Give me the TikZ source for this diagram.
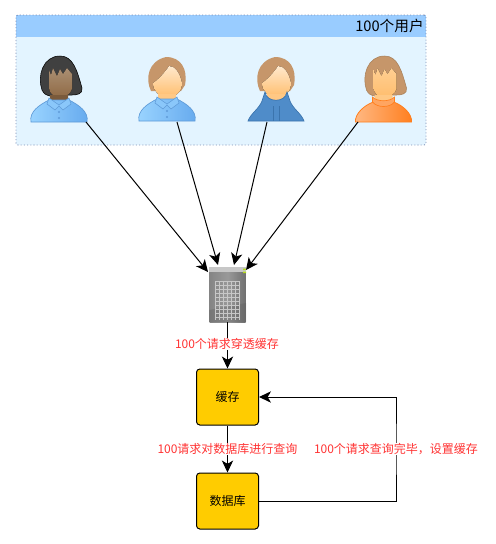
\documentclass[tikz,border=0pt]{standalone}
\usepackage{fontspec}
\setmainfont{Noto Sans CJK SC}
\usetikzlibrary{arrows.meta}
\definecolor{headblue}{HTML}{99CCFF}
\definecolor{paleblue}{HTML}{E3F4FF}
\definecolor{edgeblue}{HTML}{7F8FB5}
\definecolor{boxgold}{HTML}{FFCC00}
\definecolor{labelred}{HTML}{FF3333}
\definecolor{hairtan}{HTML}{C6966A}
\definecolor{skinorange}{HTML}{FFBE6E}
\definecolor{skindark}{HTML}{8F6A45}
\definecolor{shirtblue}{HTML}{66AAEE}
\definecolor{shirtlight}{HTML}{9AD4FF}
\definecolor{shirtedge}{HTML}{5F9BD8}
\definecolor{hoodblue}{HTML}{4F8CC9}
\definecolor{hoodedge}{HTML}{3B74AD}
\definecolor{jerseyorange}{HTML}{FF7F1E}
\tikzset{
  flow/.style={line width=.75pt,-{Stealth[length=9pt,width=8.5pt,inset=2.5pt]}},
  store/.style={draw,line width=.75pt,fill=boxgold,rounded corners=2.5pt,minimum width=46.5pt,minimum height=42pt,inner sep=0pt,font=\fontsize{9}{11}\selectfont},
  note/.style={text=labelred,fill=white,inner sep=.5pt,font=\fontsize{9}{11}\selectfont},
  server/.style={left color=black!48,right color=black!56,middle color=black!40,minimum width=27pt,minimum height=41.25pt,inner sep=0pt}
}
% shirt with collar and two buttons
\newcommand\shirt{
  \draw[shirtedge,line width=.5pt,left color=shirtlight,right color=shirtblue] (-28,0) .. controls (-30,-10) and (-20,-17) .. (-10,-22) -- (10,-22) .. controls (20,-17) and (30,-10) .. (28,0) -- cycle;
  \draw[shirtedge,line width=.4pt,fill=shirtlight!70!shirtblue] (-10,-24) -- (0,-17) -- (10,-24) -- (12,-18) -- (4,-12) -- (0,-16) -- (-4,-12) -- (-12,-18) -- cycle;
  \fill[shirtedge] (0,-10) circle (1.2) (0,-4) circle (1.2);
}
% short hair, swept to one side
\newcommand\shorthair{
  \fill[hairtan] (-16,-30) .. controls (-22,-42) and (-19,-60) .. (-1,-64) .. controls (14,-64) and (21,-52) .. (18,-36) -- (14,-30) -- cycle;
  \fill[top color=skinorange!35!white,bottom color=skinorange] (-14,-38) .. controls (-8,-42) and (-1,-50) .. (2,-55) .. controls (8,-55) and (13,-48) .. (15,-38) .. controls (15,-28) and (8,-24) .. (0,-24) .. controls (-8,-24) and (-14,-30) .. (-14,-38) -- cycle;
}
% long hair with a jagged fringe
\newcommand\longhair[3]{
  \draw[#3,line width=.4pt,fill=#1] (-17,-32) .. controls (-22,-46) and (-16,-66) .. (1,-66) .. controls (14,-66) and (18,-52) .. (23,-34) .. controls (24,-28) and (18,-27) .. (13,-27) -- (-9,-26) .. controls (-13,-27) and (-15,-28) .. (-17,-32) -- cycle;
  \fill[top color=#2!75!white,bottom color=#2] (-10,-52) -- (-8,-47) -- (-6,-54) -- (-2,-46) -- (1,-53) -- (4,-48) -- (8,-54) -- (13,-48) -- (13,-33) .. controls (11,-27) and (6,-25) .. (1,-25) .. controls (-4,-25) and (-10,-28) .. (-10,-34) -- cycle;
}
\newcommand\neck[1]{\fill[#1] (-9,-27) -- (9,-27) -- (9,-19) -- (0,-15) -- (-9,-19) -- cycle;}
\begin{document}
\begin{tikzpicture}[x=.75pt,y=-.75pt]
  \useasboundingbox (0,0) rectangle (496,544);
  \node[fill=paleblue,rounded corners=1.5pt,minimum width=307.5pt,minimum height=97.5pt,inner sep=0pt] (users) at (221,80) {};
  \node[fill=headblue,minimum width=307.5pt,minimum height=16.5pt,inner sep=0pt] (usershead) at (221,26) {};
  \node[draw=edgeblue,line width=.7pt,dash pattern=on .8pt off 1.6pt,rounded corners=1.5pt,minimum width=307.5pt,minimum height=97.5pt,inner sep=0pt] (usersedge) at (221,80) {};
  \node[anchor=east,inner sep=0pt,font=\fontsize{11}{12}\selectfont] (userstitle) at (424,26) {100个用户};

  % four users, origin at the middle of the feet
  \begin{scope}[shift={(59,122)}]
    \longhair{black!75}{skindark}{black}
    \neck{skindark!85!black}
    \shirt
  \end{scope}
  \begin{scope}[shift={(167,121)}]
    \shorthair
    \neck{skinorange!85!white}
    \shirt
  \end{scope}
  \begin{scope}[shift={(276,121)}]
    \shorthair
    \neck{skinorange!85!white}
    \fill[black!20] (-13,-20) -- (13,-20) -- (10,-12) -- (-10,-12) -- cycle;
    \draw[hoodedge,line width=.5pt,fill=hoodblue] (-28,0) .. controls (-25,-8) and (-17,-12) .. (-14,-20) -- (-11,-29) .. controls (-10,-18) and (10,-18) .. (11,-29) -- (14,-20) .. controls (17,-12) and (25,-8) .. (28,0) -- cycle;
    \draw[hoodedge,line width=.4pt] (-3,-15) -- (-3,0) (3,-15) -- (3,0);
  \end{scope}
  \begin{scope}[shift={(383.5,122)}]
    \longhair{hairtan}{skinorange}{hairtan!85!black}
    \neck{skinorange!85!white}
    \draw[jerseyorange,line width=.6pt,left color=jerseyorange!55!white,right color=jerseyorange] (-28,0) .. controls (-29,-8) and (-19,-17) .. (-10,-20) -- (10,-20) .. controls (19,-17) and (29,-8) .. (28,0) -- cycle;
    \draw[jerseyorange,line width=.5pt,fill=jerseyorange!70!white] (-11,-25) .. controls (-6,-20) and (6,-20) .. (11,-25) -- (11,-20) .. controls (6,-14) and (-6,-14) .. (-11,-20) -- cycle;
  \end{scope}
  \coordinate (foot1) at (86,122);
  \coordinate (foot2) at (177,122);
  \coordinate (foot3) at (267,122);
  \coordinate (foot4) at (358,122);

  % server with its grille
  \node[server] (srv) at (227.5,294.5) {};
  \fill[black!22] (209,267) rectangle (246,272);
  \fill[black!65,opacity=.3] (209,310) -- (246,303) -- (246,322) -- (209,322) -- cycle;
  \foreach \gx in {215,219,...,239} \draw[black!22,line width=.4pt] (\gx,281) -- (\gx,320);
  \foreach \gy in {281,285,...,320} \draw[black!22,line width=.4pt] (215,\gy) -- (239,\gy);
  \fill[yellow!70!green] (243,268.5) rectangle (246,270) (243,271.5) rectangle (246,273);
  \coordinate (in1) at (208,272);
  \coordinate (in2) at (218,265);
  \coordinate (in3) at (234,265);
  \coordinate (in4) at (246,270);

  \node[store] (cache) at (227.5,397) {缓存};
  \node[store] (db) at (227.5,501) {数据库};

  \draw[flow] (foot1) -- (in1);
  \draw[flow] (foot2) -- (in2);
  \draw[flow] (foot3) -- (in3);
  \draw[flow] (foot4) -- (in4);
  \draw[flow] (srv.south) -- (cache.north);
  \draw[flow] (cache.south) -- (db.north);
  \coordinate (turn) at (396,449);
  \draw[flow] (db.east) -| (turn) |- (cache.east);

  \node[note] (lbl1) at (227,344) {100个请求穿透缓存};
  \node[note] (lbl2) at (227.5,449) {100请求对数据库进行查询};
  \node[note] (lbl3) at (396,449) {100个请求查询完毕\symbol{"FF0C}设置缓存};
\end{tikzpicture}
\end{document}
